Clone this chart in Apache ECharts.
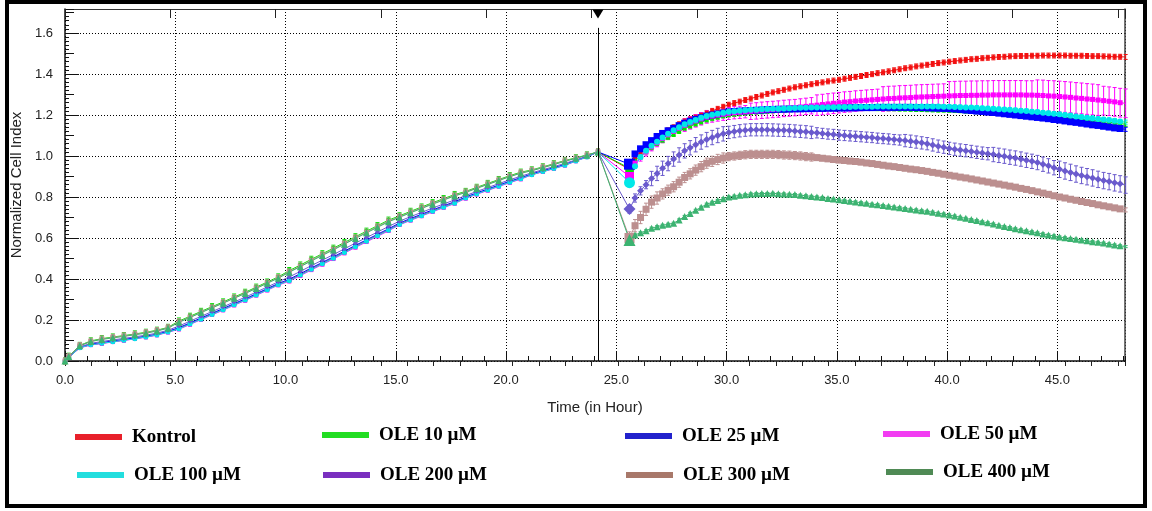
<!DOCTYPE html>
<html><head><meta charset="utf-8">
<script src="https://cdn.jsdelivr.net/npm/echarts@6/dist/echarts.min.js"></script>
<style>html,body{margin:0;padding:0;background:#fff}#chart{width:1152px;height:511px}</style>
</head><body><div id="chart"></div><script>
// ---------- DATA ----------
const seriesNames = ['Kontrol','OLE 10 µM','OLE 25 µM','OLE 50 µM','OLE 100 µM','OLE 200 µM','OLE 300 µM','OLE 400 µM'];
const xAxisTitle = 'Time (in Hour)';
const yAxisTitle = 'Normalized Cell Index';
const treatmentTime = 24.17;
// sampling schedule (hours)
const growthFirst = 0, growthStart = 0.17, growthStep = 0.5, growthCount = 49;
const treatedStart = 25.6, treatedStep = 0.25, treatedCount = 91;

// growth phase (0 - 24.17 h)
const kontrolGrowth = [0,.018,.065,.080,.087,.095,.102,.110,.118,.128,.142,.159,.182,.206,.229,.252,.276,.299,.324,.349,.374,.394,.421,.449,.476,.503,.531,.559,.586,.613,.640,.668,.690,.711,.732,.752,.772,.796,.816,.835,.854,.873,.890,.910,.925,.940,.956,.977,.996,1.020];
const ole10Growth = [0,.023,.076,.098,.109,.117,.124,.132,.140,.150,.164,.195,.218,.242,.265,.288,.312,.335,.360,.385,.410,.441,.468,.496,.523,.550,.578,.606,.633,.660,.687,.708,.730,.751,.772,.792,.812,.827,.847,.866,.885,.904,.921,.932,.947,.962,.978,.991,1.005,1.020];
const ole25Growth = [0,.018,.066,.082,.090,.098,.105,.113,.121,.131,.145,.163,.186,.210,.233,.256,.280,.303,.328,.353,.378,.399,.426,.454,.481,.508,.536,.564,.591,.618,.645,.673,.695,.716,.737,.757,.777,.800,.820,.839,.858,.877,.894,.913,.928,.943,.959,.978,.997,1.020];
const ole50Growth = [0,.017,.064,.078,.085,.093,.100,.108,.116,.126,.140,.155,.178,.202,.225,.248,.272,.295,.320,.345,.370,.389,.416,.444,.471,.498,.526,.554,.581,.608,.635,.664,.686,.707,.728,.748,.768,.793,.813,.832,.851,.870,.887,.908,.923,.938,.954,.975,.995,1.020];
const ole100Growth = [0,.017,.065,.079,.086,.094,.101,.109,.117,.127,.141,.157,.180,.204,.227,.250,.274,.297,.322,.347,.372,.392,.419,.447,.474,.501,.529,.557,.584,.611,.638,.666,.688,.709,.730,.750,.770,.795,.815,.834,.853,.872,.889,.909,.924,.939,.955,.976,.995,1.020];
const ole200Growth = [0,.019,.069,.086,.095,.103,.110,.118,.126,.136,.150,.171,.194,.218,.241,.264,.288,.311,.336,.361,.386,.410,.437,.465,.492,.519,.547,.575,.602,.629,.656,.682,.704,.725,.746,.766,.786,.807,.827,.846,.865,.884,.901,.918,.933,.948,.964,.981,.999,1.020];
const ole300Growth = [0,.022,.075,.096,.107,.115,.122,.130,.138,.148,.162,.191,.214,.238,.261,.284,.308,.331,.356,.381,.406,.436,.463,.491,.518,.545,.573,.601,.628,.655,.682,.704,.726,.747,.768,.788,.808,.824,.844,.863,.882,.901,.918,.930,.945,.960,.976,.989,1.004,1.020];
const ole400Growth = [0,.022,.074,.095,.105,.113,.120,.128,.136,.146,.160,.189,.212,.236,.259,.282,.306,.329,.354,.379,.404,.433,.460,.488,.515,.542,.570,.598,.625,.652,.679,.701,.723,.744,.765,.785,.805,.822,.842,.861,.880,.899,.916,.928,.943,.958,.974,.989,1.004,1.020];

// treated phase (25.6 - 48.1 h)
const kontrolTreated = [.935,.99,1.02,1.045,1.07,1.09,1.11,1.125,1.14,1.155,1.17,
1.18,1.19,1.2,1.21, 1.22,1.23,1.24,1.25, 1.258,1.265,1.273,1.28, 1.288,1.295,1.303,1.31,
1.316,1.323,1.329,1.335, 1.34,1.345,1.35,1.355, 1.359,1.364,1.368,1.372, 1.377,1.381,1.386,1.39,
1.395,1.399,1.404,1.408, 1.413,1.418,1.423,1.428, 1.432,1.437,1.441,1.445, 1.449,1.453,1.456,1.46,
1.463,1.466,1.469,1.472, 1.474,1.477,1.479,1.481, 1.483,1.484,1.486,1.487, 1.488,1.488,1.489,1.489,
1.49,1.49,1.49,1.49, 1.49,1.489,1.489,1.489, 1.488,1.487,1.487,1.486, 1.485,1.484,1.484,1.483];
const ole10Treated = [.94,.975,1.0,1.02,1.04,1.06,1.075,1.09,1.105,1.12,1.135,
1.145,1.155,1.165,1.175, 1.182,1.189,1.195,1.2, 1.203,1.206,1.209,1.212, 1.214,1.216,1.218,1.22,
1.222,1.223,1.225,1.226, 1.227,1.228,1.229,1.23, 1.23,1.231,1.231,1.232, 1.232,1.232,1.232,1.232,
1.232,1.232,1.231,1.231, 1.23,1.23,1.229,1.229, 1.228,1.227,1.227,1.226, 1.225,1.224,1.224,1.223,
1.222,1.221,1.219,1.218, 1.216,1.215,1.213,1.212, 1.21,1.208,1.207,1.205, 1.203,1.202,1.2,1.198,
1.196,1.194,1.192,1.19, 1.187,1.185,1.182,1.18, 1.177,1.174,1.171,1.168, 1.165,1.162,1.158,1.155];
const ole25Treated = [.96,1.01,1.035,1.055,1.075,1.095,1.11,1.123,1.135,1.148,1.16,
1.17,1.179,1.187,1.195, 1.2,1.205,1.21,1.215, 1.217,1.219,1.22,1.222, 1.223,1.224,1.226,1.227,
1.228,1.228,1.229,1.23, 1.23,1.231,1.231,1.232, 1.232,1.233,1.233,1.234, 1.234,1.235,1.235,1.236,
1.236,1.236,1.237,1.237, 1.237,1.237,1.237,1.237, 1.237,1.236,1.236,1.235, 1.234,1.233,1.232,1.231,
1.229,1.227,1.224,1.222, 1.219,1.217,1.214,1.212, 1.209,1.206,1.203,1.2, 1.197,1.194,1.191,1.188,
1.185,1.182,1.178,1.175, 1.171,1.167,1.164,1.16, 1.156,1.152,1.149,1.145, 1.141,1.137,1.134,1.13];
const ole50Treated = [.90,.965,.995,1.02,1.045,1.065,1.085,1.103,1.12,1.135,1.15,
1.161,1.171,1.181,1.19, 1.195,1.2,1.204,1.208, 1.211,1.213,1.216,1.218, 1.22,1.223,1.225,1.227,
1.229,1.232,1.234,1.236, 1.239,1.242,1.245,1.248, 1.251,1.254,1.257,1.26, 1.263,1.265,1.268,1.27,
1.272,1.274,1.276,1.278, 1.28,1.281,1.283,1.284, 1.285,1.287,1.288,1.289, 1.29,1.291,1.292,1.293,
1.294,1.295,1.295,1.296, 1.296,1.297,1.297,1.298, 1.298,1.298,1.298,1.298, 1.298,1.297,1.297,1.296,
1.295,1.293,1.292,1.29, 1.288,1.286,1.283,1.281, 1.278,1.276,1.273,1.27, 1.267,1.264,1.26,1.257];
const ole100Treated = [.87,.95,.995,1.025,1.05,1.07,1.09,1.108,1.125,1.14,1.155,
1.166,1.176,1.186,1.195, 1.201,1.206,1.211,1.216, 1.218,1.221,1.223,1.225, 1.226,1.228,1.229,1.23,
1.231,1.232,1.233,1.234, 1.235,1.235,1.236,1.237, 1.237,1.238,1.238,1.239, 1.239,1.239,1.24,1.24,
1.24,1.24,1.241,1.241, 1.241,1.241,1.241,1.241, 1.241,1.241,1.241,1.241, 1.241,1.241,1.24,1.24,
1.239,1.238,1.237,1.236, 1.235,1.233,1.232,1.23, 1.228,1.227,1.225,1.223, 1.221,1.219,1.216,1.214,
1.211,1.209,1.206,1.203, 1.2,1.197,1.193,1.19, 1.187,1.184,1.181,1.178, 1.175,1.172,1.168,1.165];
const ole200Treated = [.741,.795,.83,.86,.89,.915,.94,.963,.985,1.005,1.025,
1.04,1.055,1.068,1.08, 1.09,1.1,1.108,1.115, 1.119,1.123,1.126,1.128, 1.128,1.128,1.128,1.127,
1.126,1.125,1.124,1.122, 1.12,1.118,1.115,1.113, 1.11,1.107,1.105,1.102, 1.1,1.098,1.096,1.094,
1.092,1.09,1.087,1.085, 1.083,1.08,1.078,1.075, 1.072,1.068,1.064,1.06, 1.054,1.048,1.043,1.037,
1.033,1.029,1.026,1.022, 1.018,1.014,1.011,1.007, 1.003,.999,.994,.99, .985,.979,.974,.968,
.96,.952,.943,.935, .927,.92,.912,.905, .899,.893,.886,.88, .875,.869,.864,.858];
const ole300Treated = [.60,.66,.70,.74,.775,.795,.815,.833,.85,.872,.895,
.913,.931,.948,.965, .974,.983,.99,.997, 1.0,1.003,1.006,1.008, 1.008,1.008,1.008,1.008,
1.007,1.005,1.004,1.002, 1.0,.997,.995,.992, .989,.986,.983,.98, .978,.975,.973,.97,
.966,.963,.959,.955, .951,.948,.944,.94, .936,.933,.929,.925, .92,.916,.911,.906,
.902,.897,.893,.888, .883,.878,.873,.868, .863,.858,.853,.848, .842,.837,.831,.825,
.819,.813,.806,.80, .795,.789,.784,.778, .773,.768,.762,.757, .752,.747,.742,.737];
const ole400Treated = [.59,.615,.625,.635,.648,.655,.662,.667,.672,.688,.705,
.72,.735,.75,.765, .774,.783,.792,.80, .804,.808,.811,.815, .816,.817,.817,.818,
.816,.815,.813,.812, .809,.806,.803,.80, .797,.793,.79,.786, .783,.779,.776,.772,
.769,.765,.762,.758, .755,.751,.748,.744, .74,.737,.733,.73, .726,.721,.717,.712,
.707,.701,.696,.69, .685,.679,.674,.668, .662,.656,.651,.645, .64,.635,.63,.625,
.62,.615,.61,.605, .601,.597,.594,.59, .586,.582,.579,.575, .571,.566,.562,.558];

// standard deviations: growth phase constant, treated phase as [fromHour, sd] steps
const growthSD = [0.005, 0.015, 0.005, 0.008, 0.005, 0.008, 0.015, 0.005];
const treatedSD = [
  [[25.6, 0.012]],
  [[25.6, 0.01]],
  [[25.6, 0.01]],
  [[25.6, 0.02],[28, 0.03],[31, 0.04],[34, 0.05],[37, 0.06],[40, 0.07],[44, 0.075],[47, 0.07]],
  [[25.6, 0.01]],
  [[25.6, 0.02],[26.5, 0.035],[30, 0.03],[34, 0.025],[38, 0.03],[42, 0.035],[45, 0.04]],
  [[25.6, 0.03],[27, 0.025],[30, 0.02],[34, 0.012],[38, 0.01]],
  [[25.6, 0.005]]
];
const growthValues = [kontrolGrowth, ole10Growth, ole25Growth, ole50Growth, ole100Growth, ole200Growth, ole300Growth, ole400Growth];
const treatedValues = [kontrolTreated, ole10Treated, ole25Treated, ole50Treated, ole100Treated, ole200Treated, ole300Treated, ole400Treated];

// ---------- STYLE ----------
const styles = [
  {color:'#f21010', legend:'#e8202a', symbol:'rect', size:4, small:4, dip:8},
  {color:'#00e600', legend:'#22dd22', symbol:'rect', size:4, small:4, dip:8},
  {color:'#0000ff', legend:'#2222cc', symbol:'rect', size:7, small:4, dip:11},
  {color:'#ff00ff', legend:'#f23cf2', symbol:'rect', size:5, small:4, dip:9},
  {color:'#00e8e8', legend:'#22dede', symbol:'circle', size:6, small:5, dip:11},
  {color:'#6a5acd', legend:'#7a2fbf', symbol:'diamond', size:7, small:5, dip:12},
  {color:'#bc8f8f', legend:'#a8786a', symbol:'rect', size:7, small:5, dip:10},
  {color:'#3cb371', legend:'#4f8a55', symbol:'triangle', size:7, small:7, dip:12}
];
const legendPos = [[75,427],[322,425],[625,426],[883,424],[77,465],[323,465],[626,465],[886,462]];
const X_MAX = 48.07, Y_MAX = 1.717, TOP_MAX = 10.066;

// ---------- BUILD ----------
const growthTimes = [growthFirst];
for (let k = 0; k < growthCount; k++) growthTimes.push(+(growthStart + growthStep * k).toFixed(2));
const treatedTimes = [];
for (let k = 0; k < treatedCount; k++) treatedTimes.push(+(treatedStart + treatedStep * k).toFixed(2));
const times = growthTimes.concat(treatedTimes);
const dipIndex = growthTimes.length;

function sdAt(steps, t) { let e = steps[0][1]; for (const s of steps) if (t >= s[0]) e = s[1]; return e; }

function errRenderer(color) {
  return function (params, api) {
    const t = api.value(0), lo = api.value(1), hi = api.value(2);
    const p1 = api.coord([t, lo]), p2 = api.coord([t, hi]);
    const w = 2;
    const st = {stroke: color, lineWidth: 1};
    return {type: 'group', children: [
      {type: 'line', shape: {x1: p1[0], y1: p1[1], x2: p2[0], y2: p2[1]}, style: st},
      {type: 'line', shape: {x1: p1[0]-w, y1: p1[1], x2: p1[0]+w, y2: p1[1]}, style: st},
      {type: 'line', shape: {x1: p2[0]-w, y1: p2[1], x2: p2[0]+w, y2: p2[1]}, style: st}
    ]};
  };
}

const series = [];
seriesNames.forEach((name, i) => {
  const vals = growthValues[i].concat(treatedValues[i]);
  const st = styles[i];
  const errData = times.map((t, j) => {
    const e = j < dipIndex ? growthSD[i] : sdAt(treatedSD[i], t);
    return [t, vals[j] - e, vals[j] + e];
  });
  series.push({
    type: 'custom', name: 'sd-' + name, renderItem: errRenderer(st.color),
    data: errData, encode: {x: 0, y: [1, 2]}, silent: true, z: 2
  });
  const s = {
    type: 'line', name: name,
    data: times.map((t, j) => [t, vals[j]]),
    symbol: st.symbol,
    symbolSize: (v, p) => p.dataIndex === dipIndex ? st.dip : (p.dataIndex < dipIndex ? st.small : st.size),
    showSymbol: true, showAllSymbol: true,
    itemStyle: {color: st.color, borderWidth: 0},
    lineStyle: {color: st.color, width: 1},
    z: 2, silent: true
  };
  if (i === 0) {
    s.markLine = {
      silent: true, symbol: ['none', 'none'], label: {show: false},
      lineStyle: {color: '#000', width: 1, type: 'solid'},
      data: [[{coord: [treatmentTime, 0]}, {coord: [treatmentTime, 1.625]}]]
    };
    s.markPoint = {
      silent: true, symbol: 'triangle', symbolRotate: 180, symbolSize: [11, 9],
      symbolOffset: [0, 5], itemStyle: {color: '#000'}, label: {show: false},
      data: [{coord: [treatmentTime, Y_MAX]}]
    };
  }
  series.push(s);
});

const legends = seriesNames.map((name, i) => ({
  show: true, left: legendPos[i][0], top: legendPos[i][1], padding: 0,
  itemWidth: 47, itemHeight: 6, icon: 'rect', selectedMode: false,
  data: [{name: name, icon: 'rect', itemStyle: {color: styles[i].legend, borderWidth: 0}}],
  textStyle: {fontFamily: 'Liberation Serif', fontWeight: 'bold', fontSize: 19, color: '#000', lineHeight: 20, padding: [0,0,0,5]}
}));

const labelStyle = {color: '#222', fontFamily: 'Liberation Sans', fontSize: 13};
const dotted = {show: true, lineStyle: {color: '#000', width: 1, type: [1, 2]}};
const noLine = {show: false};

const option = {
  animation: false,
  backgroundColor: '#fff',
  grid: {left: 65, top: 9, right: 27, bottom: 150, containLabel: false},
  legend: legends,
  xAxis: [
    {type: 'value', position: 'bottom', min: 0, max: X_MAX, interval: 5,
     axisLine: {show: true, onZero: false, lineStyle: {color: '#111', width: 1.5}},
     axisTick: {show: true, inside: true, length: 10, lineStyle: {color: '#111'}},
     axisLabel: Object.assign({formatter: v => v.toFixed(1), margin: 13, showMaxLabel: false}, labelStyle),
     splitLine: dotted,
     name: xAxisTitle, nameLocation: 'middle', nameGap: 39,
     nameTextStyle: {color: '#222', fontFamily: 'Liberation Sans', fontSize: 15}},
    {type: 'value', position: 'bottom', min: 0, max: X_MAX, interval: 1,
     axisLine: noLine, axisLabel: noLine, splitLine: noLine,
     axisTick: {show: true, inside: true, length: 5, lineStyle: {color: '#111'}}},
    {type: 'value', position: 'top', min: 0, max: TOP_MAX, interval: 1,
     axisLine: {show: true, onZero: false, lineStyle: {color: '#333', width: 1}},
     axisLabel: noLine, splitLine: noLine,
     axisTick: {show: true, inside: true, length: 9, lineStyle: {color: '#222'}}},
    {type: 'value', position: 'top', min: 0, max: TOP_MAX, interval: 0.25,
     axisLine: noLine, axisLabel: noLine, splitLine: noLine,
     axisTick: {show: true, inside: true, length: 5, lineStyle: {color: '#222'}}}
  ],
  yAxis: [
    {type: 'value', position: 'left', min: 0, max: Y_MAX, interval: 0.2,
     axisLine: {show: true, onZero: false, lineStyle: {color: '#111', width: 1.5}},
     axisTick: {show: true, inside: true, length: 14, lineStyle: {color: '#111'}},
     axisLabel: Object.assign({formatter: v => v.toFixed(1), margin: 12, showMaxLabel: false}, labelStyle),
     splitLine: dotted,
     name: yAxisTitle, nameLocation: 'middle', nameGap: 36, nameRotate: 90,
     nameTextStyle: {color: '#222', fontFamily: 'Liberation Sans', fontSize: 15}},
    {type: 'value', position: 'left', min: 0, max: Y_MAX, interval: 0.1,
     axisLine: noLine, axisLabel: noLine, splitLine: noLine,
     axisTick: {show: true, inside: true, length: 9, lineStyle: {color: '#111'}}},
    {type: 'value', position: 'left', min: 0, max: Y_MAX, interval: 0.02,
     axisLine: noLine, axisLabel: noLine, splitLine: noLine,
     axisTick: {show: true, inside: true, length: 4, lineStyle: {color: '#111'}}},
    {type: 'value', position: 'right', min: 0, max: Y_MAX,
     axisLine: {show: true, onZero: false, lineStyle: {color: '#444', width: 1.5}},
     axisTick: noLine, axisLabel: noLine, splitLine: noLine}
  ],
  graphic: [{
    type: 'rect', silent: true, z: 100,
    shape: {x: 7, y: 2, width: 1138, height: 504},
    style: {fill: 'none', stroke: '#000', lineWidth: 4}
  }],
  series: series
};

const chart = echarts.init(document.getElementById('chart'), null, {renderer: 'canvas'});
chart.setOption(option);
</script></body></html>
